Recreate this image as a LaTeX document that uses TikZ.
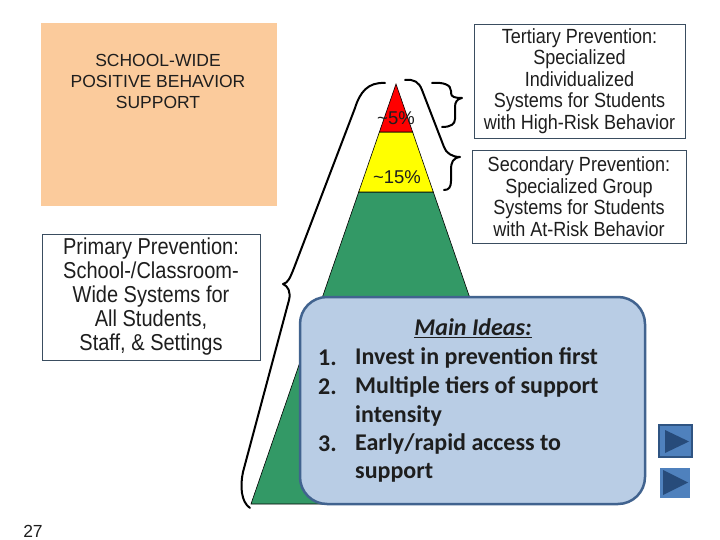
\documentclass[tikz,border=0pt]{standalone}
\usepackage{fontspec}
\setmainfont{Liberation Sans}
\newfontfamily\calib{Carlito}
\newfontfamily\narrowa[FakeStretch=0.88]{Liberation Sans}
\newfontfamily\narrowb[FakeStretch=0.87]{Liberation Sans}
\definecolor{peach}{HTML}{FBCB9C}
\definecolor{boxline}{HTML}{3A4D60}
\definecolor{txt}{HTML}{1E1E1E}
\definecolor{pyred}{HTML}{FF0000}
\definecolor{pyyel}{HTML}{FFFF00}
\definecolor{pygrn}{HTML}{339966}
\definecolor{ideafill}{HTML}{B9CDE5}
\definecolor{idealine}{HTML}{41638F}
\definecolor{btnfill}{HTML}{4F81BD}
\definecolor{btnline}{HTML}{2F5482}
\definecolor{btntri}{HTML}{274B7A}
\begin{document}
\begin{tikzpicture}[x=1pt,y=-1pt,
  tierbox/.style={draw=boxline, line width=0.8pt, align=center, text=txt, inner sep=0pt},
  brace/.style={draw=black, line width=2pt, line cap=round, line join=round},
  pct/.style={text=txt, font=\fontsize{18.5}{21}\selectfont, inner sep=0pt},
  idea/.style={text=txt, font=\calib\bfseries\fontsize{24}{28.8}\selectfont, inner sep=0pt}]
\useasboundingbox (0,0) rectangle (720,540);
\fill[white] (0,0) rectangle (720,540);
% orange box
\fill[peach] (41,23) rectangle (277,206);
\node (title) [text=txt, align=center, font=\fontsize{17.5}{21}\selectfont, inner sep=0pt] at (158,81) {SCHOOL-WIDE\\POSITIVE BEHAVIOR\\SUPPORT};
% tier boxes
\node (tert) [tierbox, minimum width=211pt, minimum height=114pt, font=\narrowa\fontsize{20.5}{21.5}\selectfont] at (579.5,81) {Tertiary Prevention:\\Specialized\\Individualized\\Systems for Students\\with High-Risk Behavior};
\node (sec) [tierbox, minimum width=214pt, minimum height=93pt, font=\narrowa\fontsize{20.5}{21.5}\selectfont] at (579,196.5) {Secondary Prevention:\\Specialized Group\\Systems for Students\\with At-Risk Behavior};
\node (prim) [tierbox, minimum width=218pt, minimum height=126pt, font=\narrowb\fontsize{23}{24}\selectfont] at (151,297) {Primary Prevention:\\School-/Classroom-\\Wide Systems for\\All Students,\\Staff, \& Settings};
% pyramid
\filldraw[fill=pygrn, draw=black, line width=0.6pt] (358.7,192) -- (433.3,192) -- (541,504) -- (251,504) -- cycle;
\filldraw[fill=pyyel, draw=black, line width=0.6pt] (379.4,132) -- (412.6,132) -- (433.3,192) -- (358.7,192) -- cycle;
\filldraw[fill=pyred, draw=black, line width=0.6pt] (396,84) -- (412.6,132) -- (379.4,132) -- cycle;
\node (p5) [pct] at (396,118) {\textasciitilde5\%};
\node (p15) [pct] at (397,177) {\textasciitilde15\%};
% braces
\draw[brace] (385,83) .. controls (368,82) and (360,92) .. (355,108) -- (294,268) .. controls (290,278) and (288,283) .. (283,284) .. controls (288,286) and (291,292) .. (289,300) -- (243,472) .. controls (240,486) and (241,502) .. (250,508);
\draw[brace] (405,80) .. controls (414,79) and (419,82) .. (422,90) -- (444,147) .. controls (446,153) and (452,157) .. (460,157) .. controls (453,158) and (451,162) .. (451,170) -- (451,181) .. controls (451,187) and (449,190) .. (444,190);
\draw[brace] (432,83) .. controls (444,82) and (451,85) .. (451,91) -- (451,93) .. controls (451,97) and (455,98) .. (462,98) .. controls (457,99) and (455,102) .. (455,107) -- (455,119) .. controls (455,124) and (451,127) .. (442,127);
% main ideas box
\filldraw[fill=ideafill, draw=idealine, line width=2.5pt, rounded corners=27pt] (300,297) rectangle (645,504);
\node (mi) [idea] at (473,328) {\itshape\underline{Main Ideas:}};
\node (n1) [idea, anchor=west] at (318,358) {1.};
\node (t1) [idea, anchor=west] at (355,358) {Invest in prevention first};
\node (n2) [idea, anchor=west] at (318,387) {2.};
\node (t2) [idea, anchor=west] at (355,387) {Multiple tiers of support};
\node (t2b) [idea, anchor=west] at (355,416) {intensity};
\node (n3) [idea, anchor=west] at (318,444) {3.};
\node (t3) [idea, anchor=west] at (355,444) {Early/rapid access to};
\node (t3b) [idea, anchor=west] at (355,473) {support};
% nav buttons
\filldraw[fill=btnfill, draw=btnline, line width=1.5pt] (659,425) rectangle (692,457);
\fill[btntri] (665,430) -- (665,453) -- (689,441.5) -- cycle;
\fill[btnfill] (660,468) rectangle (690,498);
\fill[btntri] (663,470) -- (663,495) -- (688,482.5) -- cycle;
% page number
\node (pg) [text=txt, font=\fontsize{17.5}{20}\selectfont, inner sep=0pt] at (33,531) {27};
\end{tikzpicture}
\end{document}
